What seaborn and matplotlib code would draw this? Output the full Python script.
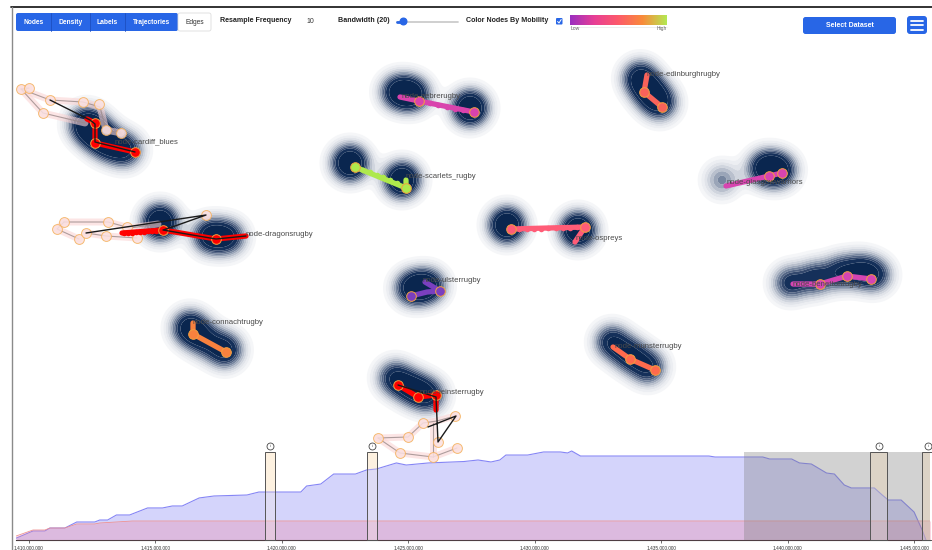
import numpy as np
import pandas as pd
import matplotlib
matplotlib.use("Agg")
import matplotlib.pyplot as plt
import seaborn as sns
from matplotlib.patches import FancyBboxPatch, Rectangle, Circle
from matplotlib.colors import LinearSegmentedColormap

sns.set_theme(style="white")
plt.rcParams['font.family'] = ['Liberation Sans', 'DejaVu Sans']

# ---- timeline data (time in millions of seconds, share of nodes) ----
blue_t = [1409.49, 1410.16, 1410.63, 1410.83, 1411.42, 1411.89, 1412.60, 1412.80, 1413.11, 1413.46,
          1413.98, 1414.69, 1415.28, 1415.67, 1416.06, 1416.73, 1417.32, 1418.62, 1419.09, 1420.75,
          1420.98, 1421.54, 1422.05, 1422.91, 1423.35, 1423.74, 1424.53, 1424.92, 1425.79, 1427.20,
          1427.76, 1428.27, 1428.62, 1428.86, 1429.72, 1430.35, 1431.02, 1431.30, 1431.46, 1431.81,
          1436.89, 1437.13, 1439.02, 1439.29, 1440.16, 1440.47, 1440.94, 1441.54, 1441.85, 1442.24,
          1442.52, 1443.43, 1443.74, 1443.98, 1444.49, 1445.00, 1445.32, 1445.47]
blue_v = [2, 10, 10, 13.3, 13.3, 20, 20, 22.2, 22.2, 27.8,
          27.8, 35.6, 35.6, 37.8, 37.8, 46.7, 48.9, 50, 53.3, 53.3,
          60, 62.2, 73.3, 73.3, 77.8, 78.9, 85.6, 83.3, 85.6, 87.2,
          88.9, 86.7, 88.9, 94.4, 94.4, 97.8, 97.8, 96.7, 98.9, 93.3,
          93.3, 92.2, 92.2, 90, 90, 85.6, 84.4, 74.4, 73.3, 61.1,
          57.8, 57.8, 50, 44.4, 44.4, 31.1, 11.1, 0]
pink_t = [1409.49, 1410.16, 1410.63, 1410.83, 1411.42, 1411.89, 1412.60, 1412.80, 1414.09, 1445.70]
pink_v = [4.4, 11.1, 11.1, 13.3, 13.3, 17.8, 17.8, 18.9, 21.1, 21.1]
brush_t = [1438.27, 1445.70]
bars_t = [(1419.33, 1419.72), (1423.35, 1423.78), (1443.27, 1443.94), (1445.32, 1445.80)]
tick_t = [1410, 1415, 1420, 1425, 1430, 1435, 1440, 1445]

# ---- node map data ----
node_names = ["cardiff_blues", "dragonsrugby", "connachtrugby", "zebrerugby", "scarlets_rugby",
              "ospreys", "edinburghrugby", "glasgowwarriors", "ulsterrugby", "leinsterrugby",
              "munsterrugby", "benettonrugby"]
node_colors = {"cardiff_blues": "#ff0000", "dragonsrugby": "#ff0000", "connachtrugby": "#f7813e",
               "zebrerugby": "#d943ad", "scarlets_rugby": "#aee94c", "ospreys": "#ff5c77",
               "edinburghrugby": "#f8625a", "glasgowwarriors": "#d844b0", "ulsterrugby": "#7a3fbf",
               "leinsterrugby": "#ff0000", "munsterrugby": "#ff6a4d", "benettonrugby": "#d545b3"}
label_xy = {"cardiff_blues": (115, 142), "dragonsrugby": (246, 234), "connachtrugby": (193, 322),
            "zebrerugby": (402, 96), "scarlets_rugby": (406, 177), "ospreys": (576, 239),
            "edinburghrugby": (647, 74), "glasgowwarriors": (727, 183), "ulsterrugby": (423, 281),
            "leinsterrugby": (420, 393), "munsterrugby": (615, 346), "benettonrugby": (793, 284)}
paths = {"cardiff_blues": [(87, 119), (95, 123), (95, 143), (135, 152)],
         "dragonsrugby": [(122, 233), (163, 230), (216, 239), (246, 236)],
         "connachtrugby": [(193, 323), (193, 334), (226, 352)],
         "zebrerugby": [(400, 97), (419, 101), (474, 112)],
         "scarlets_rugby": [(355, 167), (406, 188), (406, 180)],
         "ospreys": [(511, 229), (585, 227), (575, 242)],
         "edinburghrugby": [(647, 75), (644, 92), (662, 107)],
         "glasgowwarriors": [(726, 186), (769, 176), (782, 173)],
         "ulsterrugby": [(425, 282), (440, 291), (427, 292), (411, 296)],
         "leinsterrugby": [(398, 385), (418, 397), (436, 395), (436, 410)],
         "munsterrugby": [(613, 347), (630, 359), (655, 370)],
         "benettonrugby": [(793, 284), (820, 284), (847, 276), (871, 279)]}
big_pts = {"cardiff_blues": [(95, 123), (95, 143), (135, 152)],
           "dragonsrugby": [(163, 230), (216, 239)],
           "connachtrugby": [(193, 334), (226, 352)],
           "zebrerugby": [(419, 101), (474, 112)],
           "scarlets_rugby": [(355, 167), (406, 188)],
           "ospreys": [(511, 229), (585, 227)],
           "edinburghrugby": [(644, 92), (662, 107)],
           "glasgowwarriors": [(769, 176), (782, 173)],
           "ulsterrugby": [(411, 296), (440, 291)],
           "leinsterrugby": [(398, 385), (418, 397), (436, 395)],
           "munsterrugby": [(630, 359), (655, 370)],
           "benettonrugby": [(820, 284), (847, 276), (871, 279)]}
small_pts = {"dragonsrugby": [(124, 233), (128, 233), (132, 233), (136, 232), (140, 232), (144, 232),
                              (148, 231), (152, 231), (156, 231)],
             "zebrerugby": [(430, 103), (438, 105), (447, 107), (455, 109), (463, 110)],
             "scarlets_rugby": [(363, 170), (370, 172), (377, 175), (383, 177), (390, 180), (397, 183)],
             "ospreys": [(519, 229), (527, 229), (534, 229), (541, 229), (548, 228), (556, 228),
                         (563, 228), (570, 228), (577, 227)]}
black_lines = {"cardiff_blues": [(50, 100), (90, 120), (95, 124), (95, 142), (135, 152)],
               "dragonsrugby": [(86, 233), (206, 215), (175, 226), (163, 230), (216, 239), (246, 236)],
               "leinsterrugby": [(398, 385), (436, 397), (438, 442), (456, 416), (428, 427)]}
pale_lines = [[(29, 88), (21, 89), (43, 113), (85, 123)],
              [(21, 89), (50, 100), (83, 102), (100, 107), (106, 130), (121, 133)],
              [(64, 222), (57, 229), (79, 239)],
              [(64, 222), (108, 222), (130, 228), (158, 224)],
              [(86, 233), (106, 236), (137, 238)],
              [(378, 438), (408, 437), (423, 423), (437, 421), (455, 416)],
              [(378, 438), (400, 453), (433, 457), (457, 448)],
              [(433, 423), (433, 457)]]
pale_pts = [(21, 89), (29, 88), (50, 100), (43, 113), (83, 102), (99, 104), (106, 130), (121, 133),
            (57, 229), (64, 222), (79, 239), (86, 233), (108, 222), (106, 236), (127, 227), (137, 238),
            (206, 215), (378, 438), (408, 437), (423, 423), (455, 416), (438, 442), (457, 448),
            (400, 453), (433, 457)]
# density centres (x, y, weight)
dens_pts = {"cardiff_blues": [(86, 124, 0.7), (96, 133, 0.7), (108, 144, 0.6), (125, 150, 0.6)],
            "dragonsrugby": [(160, 222, 1.0), (210, 236, 0.7), (228, 237, 0.6)],
            "connachtrugby": [(190, 328, 0.8), (205, 340, 0.5), (225, 350, 0.7)],
            "zebrerugby": [(398, 92, 0.7), (413, 94, 0.7), (470, 108, 1.0)],
            "scarlets_rugby": [(350, 163, 1.0), (402, 180, 1.0)],
            "ospreys": [(507, 225, 1.0), (578, 230, 1.0)],
            "edinburghrugby": [(640, 78, 0.7), (650, 92, 0.6), (660, 103, 0.6)],
            "glasgowwarriors": [(722, 180, 0.28), (765, 168, 0.7), (779, 170, 0.7)],
            "ulsterrugby": [(412, 288, 0.7), (428, 286, 0.7)],
            "leinsterrugby": [(395, 378, 0.6), (412, 388, 0.6), (428, 395, 0.6)],
            "munsterrugby": [(612, 342, 0.6), (630, 355, 0.6), (648, 367, 0.6)],
            "benettonrugby": [(790, 283, 0.5), (815, 278, 0.5), (840, 272, 0.5), (860, 270, 0.5),
                              (875, 275, 0.5)]}

fig = plt.figure(figsize=(9.32, 5.5), dpi=100)

# ---- timeline ----
tl = fig.add_axes([16 / 932, 10 / 550, 914 / 932, 90 / 550])
tl.set_zorder(1)
bt = np.array(blue_t) * 1e6
pt = np.array(pink_t) * 1e6
for a, b in bars_t:
    tl.add_patch(Rectangle((a * 1e6, 0), (b - a) * 1e6, 98, facecolor="#fdf1e0",
                           edgecolor="none", zorder=0.5))
tl.fill_between(bt, blue_v, color="#d4d4fb", lw=0, zorder=1)
sns.lineplot(x=bt, y=blue_v, ax=tl, color="#8585f5", lw=0.8, zorder=2)
tl.fill_between(pt, pink_v, color="#f080a0", alpha=0.3, lw=0, zorder=3)
sns.lineplot(x=pt, y=pink_v, ax=tl, color="#f09090", lw=0.6, zorder=3)
tl.add_patch(Rectangle((brush_t[0] * 1e6, 0), (brush_t[1] - brush_t[0]) * 1e6, 98,
                       color="#808080", alpha=0.35, lw=0, zorder=4))
for a, b in bars_t:
    tl.add_patch(Rectangle((a * 1e6, 0), (b - a) * 1e6, 98, facecolor="#fdf1e0", alpha=0.25,
                           edgecolor="none", zorder=5))
    tl.add_patch(Rectangle((a * 1e6, 0), (b - a) * 1e6, 98, facecolor="none",
                           edgecolor="#555555", lw=0.7, zorder=6, clip_on=False))
    c = (a + b) / 2 * 1e6
    tl.plot(c, 104, marker="o", ms=5, mfc="white", mec="#444444", mew=0.6, clip_on=False, zorder=7)
    tl.text(c, 104, "i", fontsize=3, ha="center", va="center", color="#444444", clip_on=False, zorder=8)
tl.set_xlim(1409.488e6, 1445.63e6)
tl.set_ylim(0, 100)
tl.set_xticks([t * 1e6 for t in tick_t])
tl.set_xticklabels([f"{int(t * 1e6):,}" for t in tick_t], fontsize=3.4, color="#333333")
tl.tick_params(axis="x", length=2, width=0.5, pad=1.5, color="#333333", bottom=True)
tl.set_yticks([])
tl.set_xlabel("")
tl.set_ylabel("")
for s in ["left", "top", "right"]:
    tl.spines[s].set_visible(False)
tl.spines["bottom"].set_color("#333333")
tl.spines["bottom"].set_linewidth(0.8)
tl.patch.set_alpha(0)

# ---- node map ----
ax = fig.add_axes([0, 0, 1, 1])
ax.set_zorder(2)
ax.patch.set_alpha(0)
ax.set_xlim(0, 932)
ax.set_ylim(550, 0)
ax.axis("off")

gx, gy = np.meshgrid(np.arange(0, 934, 1.5), np.arange(40, 450, 1.5))
Z = np.zeros_like(gx)
sigma = 11.5
for name in node_names:
    for x, y, w in dens_pts[name]:
        Z += w * np.exp(-((gx - x) ** 2 + (gy - y) ** 2) / (2 * sigma ** 2))
Z = np.clip(Z, 0, 1)
levels = [0.03, 0.055, 0.085, 0.12, 0.16, 0.21, 0.26, 0.32, 0.38, 0.45, 0.6, 1.01]
dcolors = ["#f5f6f8", "#eceef2", "#e1e4ea", "#d0d5de", "#b9c0cd", "#9aa5b8", "#77869f",
           "#536585", "#33486d", "#15305a", "#0a264f"]
ax.contourf(gx, gy, Z, levels=levels, colors=dcolors, antialiased=True, zorder=1)

for line in pale_lines:
    xs, ys = zip(*line)
    ax.plot(xs, ys, color="#fbd5d5", lw=5, alpha=0.6, solid_capstyle="round", zorder=2)
    ax.plot(xs, ys, color="#9a8a8a", lw=0.8, alpha=0.8, zorder=3)
px, py = zip(*pale_pts)
ax.scatter(px, py, s=50, facecolor="#fbe0e0", edgecolor="#f5b05a", lw=0.7, alpha=0.85, zorder=4)

for name in node_names:
    col = node_colors[name]
    xs, ys = zip(*paths[name])
    ax.plot(xs, ys, color=col, lw=3.8, solid_capstyle="round", solid_joinstyle="round", zorder=5)
    if name in small_pts:
        sx, sy = zip(*small_pts[name])
        ax.scatter(sx, sy, s=16, color=col, lw=0, zorder=6)
    bx, by = zip(*big_pts[name])
    ax.scatter(bx, by, s=48, color=col, edgecolor="#f0a040", lw=0.7, zorder=7)
    if name in black_lines:
        kx, ky = zip(*black_lines[name])
        ax.plot(kx, ky, color="#1a1a1a", lw=1.0, zorder=8)
    lx, ly = label_xy[name]
    ax.text(lx, ly, "node-" + name, fontsize=5.6, color="#4a4a4a", ha="left", va="center", zorder=9)

# ---- page frame and toolbar ----
ax.plot([11, 932], [7, 7], color="#222222", lw=1.3, zorder=10, clip_on=False)
ax.plot([11.5, 11.5], [7, 550], color="#8a8a8a", lw=1, zorder=10, clip_on=False)

blue = "#2866e6"
ax.add_patch(FancyBboxPatch((16, 13), 162, 18, boxstyle="round,pad=0,rounding_size=2",
                            facecolor=blue, edgecolor="none", zorder=10))
ax.add_patch(FancyBboxPatch((178, 13), 33, 18, boxstyle="round,pad=0,rounding_size=2",
                            facecolor="white", edgecolor="#dddddd", lw=0.6, zorder=10))
for sx in [51, 90, 125]:
    ax.plot([sx, sx], [13, 31], color="#1d4fc0", lw=0.6, zorder=11)
btn_labels = ["Nodes", "Density", "Labels", "Trajectories"]
btn_x = [33.5, 70.5, 107.5, 152]
for lab, x in zip(btn_labels, btn_x):
    ax.text(x, 22.5, lab, fontsize=4.8, color="white", ha="center", va="center",
            fontweight="bold", zorder=12)
ax.text(195, 22.5, "Edges", fontsize=4.8, color="#333333", ha="center", va="center", zorder=12)

ax.text(220, 20.5, "Resample Frequency", fontsize=5.1, color="#222222", ha="left", va="center",
        fontweight="bold", zorder=12)
ax.text(306, 21.5, "10", fontsize=5.0, color="#333333", ha="left", va="center", zorder=12)
ax.text(338, 20.5, "Bandwidth (20)", fontsize=5.1, color="#222222", ha="left", va="center",
        fontweight="bold", zorder=12)
ax.plot([397, 458], [21.5, 21.5], color="#cccccc", lw=1.3, solid_capstyle="round", zorder=11)
ax.plot([397, 403], [21.5, 21.5], color=blue, lw=2, solid_capstyle="round", zorder=12)
ax.add_patch(Circle((403.5, 21.5), 3.3, color=blue, zorder=13))
ax.text(466, 20.5, "Color Nodes By Mobility", fontsize=5.1, color="#222222", ha="left",
        va="center", fontweight="bold", zorder=12)
ax.add_patch(FancyBboxPatch((556, 18), 6.5, 6.5, boxstyle="round,pad=0,rounding_size=1",
                            facecolor=blue, edgecolor="none", zorder=12))
ax.plot([557.6, 559, 561.2], [21.5, 23, 19.5], color="white", lw=0.7, zorder=13)

mob = LinearSegmentedColormap.from_list("mob", ["#9b2fc0", "#e83f95", "#fd5a6a", "#f98b3a", "#b5e853"])
ax.imshow(np.linspace(0, 1, 200).reshape(1, -1), cmap=mob, aspect="auto",
          extent=[570, 667, 25, 15], zorder=12)
ax.plot([570, 667], [26.5, 26.5], color="#e8e8e8", lw=0.5, zorder=12)
ax.text(571, 28.5, "Low", fontsize=3.6, color="#666666", ha="left", va="center", zorder=12)
ax.text(667, 28.5, "High", fontsize=3.6, color="#666666", ha="right", va="center", zorder=12)

ax.add_patch(FancyBboxPatch((803, 17), 93, 17, boxstyle="round,pad=0,rounding_size=2.5",
                            facecolor=blue, edgecolor="none", zorder=12))
ax.text(849.5, 25.5, "Select Dataset", fontsize=5.0, color="white", ha="center", va="center",
        fontweight="bold", zorder=13)
ax.add_patch(FancyBboxPatch((907, 16), 20, 18, boxstyle="round,pad=0,rounding_size=3",
                            facecolor=blue, edgecolor="none", zorder=12))
for hy in [20.5, 25, 29.5]:
    ax.plot([911, 923], [hy, hy], color="white", lw=1.3, solid_capstyle="round", zorder=13)

ax.set_xlim(0, 932)
ax.set_ylim(550, 0)
fig.savefig("out.png", dpi=100)
